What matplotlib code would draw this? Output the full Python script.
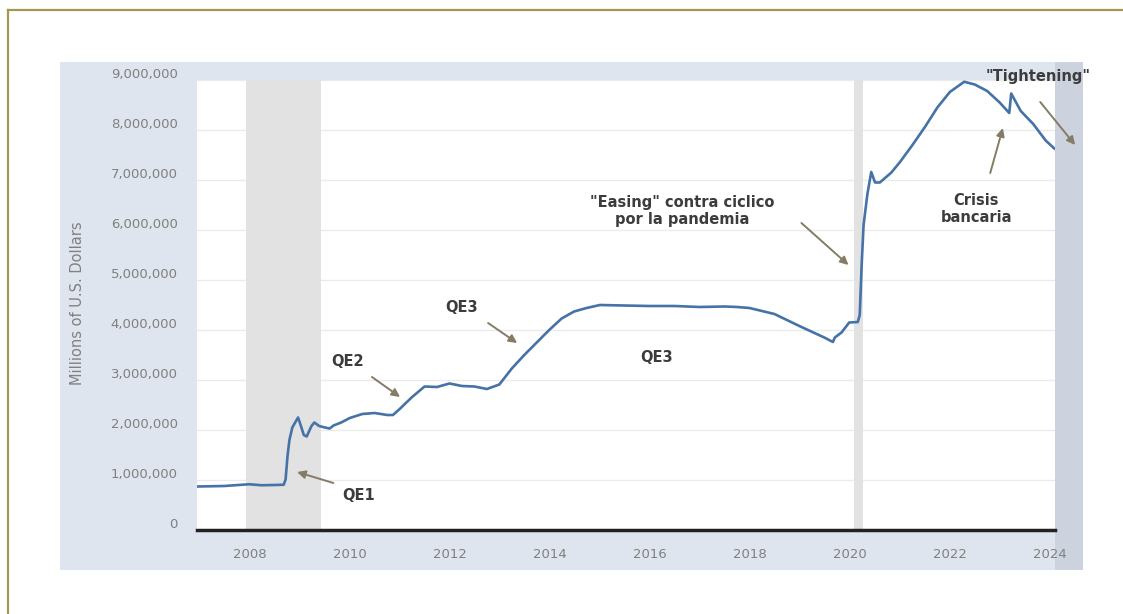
import pandas as pd
import matplotlib
matplotlib.use('Agg')
import matplotlib.pyplot as plt
import matplotlib.dates as mdates
from matplotlib.patches import Rectangle
from matplotlib.ticker import FuncFormatter
from matplotlib.transforms import ScaledTranslation

# Fed total assets (millions of US dollars)
dates = ['2006-12-13', '2007-06-27', '2007-12-26', '2008-03-26', '2008-06-25', '2008-09-03',
         '2008-09-17', '2008-10-01', '2008-10-15', '2008-11-05', '2008-12-17', '2009-01-07',
         '2009-01-28', '2009-02-18', '2009-03-25', '2009-04-15', '2009-05-20', '2009-07-01',
         '2009-08-05', '2009-09-02', '2009-10-28', '2009-12-30', '2010-03-31', '2010-06-30',
         '2010-09-29', '2010-11-10', '2010-12-29', '2011-03-30', '2011-06-29', '2011-09-28',
         '2011-12-28', '2012-03-28', '2012-06-27', '2012-09-26', '2012-12-26', '2013-03-27',
         '2013-06-26', '2013-09-25', '2013-12-25', '2014-03-26', '2014-06-25', '2014-09-24',
         '2014-12-31', '2015-06-24', '2015-12-30', '2016-06-29', '2016-12-28', '2017-06-28',
         '2017-09-27', '2017-12-27', '2018-06-27', '2018-12-26', '2019-06-26', '2019-08-28',
         '2019-09-11', '2019-10-30', '2019-12-25', '2020-02-26', '2020-03-11', '2020-03-25',
         '2020-04-08', '2020-05-06', '2020-06-03', '2020-07-01', '2020-08-05', '2020-10-28',
         '2020-12-30', '2021-03-31', '2021-06-30', '2021-09-29', '2021-12-29', '2022-04-13',
         '2022-06-29', '2022-09-28', '2022-12-28', '2023-03-08', '2023-03-22', '2023-05-31',
         '2023-08-30', '2023-11-29', '2024-01-31']
assets = [870000, 880000, 915000, 895000, 900000, 905000,
          1010000, 1480000, 1800000, 2050000, 2250000, 2080000,
          1900000, 1870000, 2080000, 2150000, 2080000, 2050000,
          2030000, 2090000, 2150000, 2240000, 2320000, 2340000,
          2300000, 2300000, 2420000, 2660000, 2870000, 2860000,
          2930000, 2880000, 2870000, 2820000, 2910000, 3230000,
          3500000, 3750000, 4000000, 4230000, 4370000, 4440000,
          4500000, 4490000, 4480000, 4480000, 4460000, 4470000,
          4460000, 4440000, 4320000, 4080000, 3850000, 3760000,
          3850000, 3950000, 4150000, 4160000, 4300000, 5300000,
          6100000, 6720000, 7160000, 6950000, 6950000, 7150000,
          7360000, 7700000, 8060000, 8450000, 8760000, 8965000,
          8910000, 8780000, 8550000, 8340000, 8730000, 8380000,
          8120000, 7790000, 7630000]

recessions = [('2007-12-01', '2009-06-01'), ('2020-02-01', '2020-04-01')]
year_ticks = ['2008', '2010', '2012', '2014', '2016', '2018', '2020', '2022', '2024']
y_ticks = [0, 1000000, 2000000, 3000000, 4000000, 5000000, 6000000, 7000000, 8000000, 9000000]

# (text, text position, arrow tail, arrow head)
notes = [
    ('QE1', ('2010-03-01', 700000), ('2009-09-01', 940000), ('2008-12-10', 1160000)),
    ('QE2', ('2009-12-10', 3360000), ('2010-06-10', 3060000), ('2011-01-01', 2660000)),
    ('QE3', ('2012-03-25', 4460000), ('2012-10-05', 4140000), ('2013-05-05', 3740000)),
    ('QE3', ('2016-02-20', 3460000), None, None),
    ('"Easing" contra ciclico\npor la pandemia', ('2016-08-25', 6380000), ('2019-01-10', 6140000), ('2019-12-20', 5300000)),
    ('Crisis\nbancaria', ('2022-07-10', 6420000), ('2022-10-20', 7140000), ('2023-01-20', 8040000)),
    ('"Tightening"', ('2023-10-05', 9080000), ('2023-10-20', 8560000), ('2024-07-01', 7700000)),
]

W, H = 1123, 614
fig = plt.figure(figsize=(W / 100, H / 100), dpi=100)
fig.patch.set_facecolor('white')

def fx(px):
    return px / W

def fy(py):
    return 1 - py / H

# background axes for the panel and frame, kept behind the chart
bg = fig.add_axes([0, 0, 1, 1], zorder=-1)
bg.set_xlim(0, W)
bg.set_ylim(H, 0)
bg.axis('off')
bg.add_patch(Rectangle((60, 62), 1023, 508, facecolor='#dfe5ee', edgecolor='none'))
bg.add_patch(Rectangle((1055, 62), 28, 508, facecolor='#ccd3de', edgecolor='none'))
bg.plot([8, 8], [H, 10], color='#a39752', lw=1.6)
bg.plot([8, W], [10, 10], color='#a39752', lw=1.6)

ax = fig.add_axes([fx(197), fy(530), fx(1055) - fx(197), fy(80) - fy(530)])
ax.set_facecolor('white')

x = pd.to_datetime(dates)
for start, end in recessions:
    ax.axvspan(pd.Timestamp(start), pd.Timestamp(end), color='#e2e2e2', lw=0, zorder=1)

ax.plot(x, assets, color='#4572a7', lw=1.9, zorder=3)

ax.set_xlim(pd.Timestamp('2006-12-10'), pd.Timestamp('2024-02-05'))
ax.set_ylim(0, 9000000)
ax.set_yticks(y_ticks)
ax.yaxis.set_major_formatter(FuncFormatter(lambda v, p: f'{int(v):,}'))
ax.set_xticks(pd.to_datetime(year_ticks))
ax.xaxis.set_major_formatter(mdates.DateFormatter('%Y'))
ax.grid(axis='y', color='#ebebeb', lw=1, zorder=0)
ax.set_axisbelow(True)

for s in ['top', 'right', 'left']:
    ax.spines[s].set_visible(False)
ax.spines['bottom'].set_color('#222222')
ax.spines['bottom'].set_linewidth(2.5)
ax.spines['bottom'].set_zorder(4)

ax.tick_params(axis='both', length=0, labelsize=9.5, labelcolor='#808080')
ax.tick_params(axis='y', pad=14)
ax.tick_params(axis='x', pad=13)
for lab in ax.get_yticklabels():
    lab.set_transform(lab.get_transform() + ScaledTranslation(0, 0.07, fig.dpi_scale_trans))

fig.text(fx(77), fy(303), 'Millions of U.S. Dollars', rotation=90, ha='center', va='center',
         fontsize=10.5, color='#808080')

for text, pos, tail, head in notes:
    ax.text(pd.Timestamp(pos[0]), pos[1], text, ha='center', va='center', fontsize=10.5,
            fontweight='bold', color='#3c3c3c', linespacing=1.15, zorder=5, clip_on=False)
    if tail is not None:
        ax.annotate('', xy=(pd.Timestamp(head[0]), head[1]), xytext=(pd.Timestamp(tail[0]), tail[1]),
                    arrowprops=dict(arrowstyle='-|>', color='#857c66', lw=1.4, mutation_scale=12,
                                    shrinkA=0, shrinkB=0),
                    annotation_clip=False, zorder=5)

fig.savefig('out.png', dpi=100)
